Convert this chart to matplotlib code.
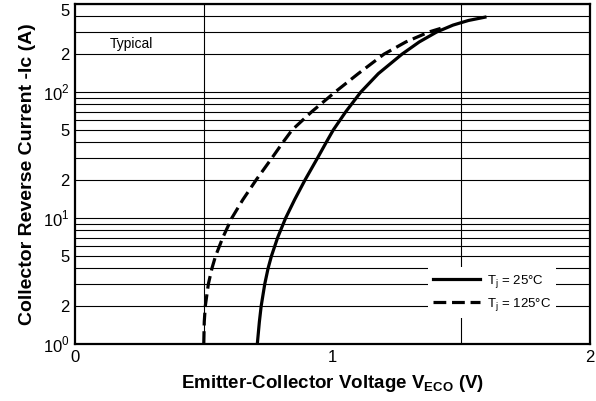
#!/usr/bin/env python3
import matplotlib
matplotlib.use("Agg")
import matplotlib.pyplot as plt
from matplotlib.ticker import FixedLocator, LogLocator, NullFormatter

plt.rcParams['font.family'] = ['Liberation Sans', 'DejaVu Sans']
plt.rcParams['mathtext.fontset'] = 'custom'
plt.rcParams['mathtext.rm'] = 'Liberation Sans'
plt.rcParams['mathtext.bf'] = 'Liberation Sans:bold'

# Tj = 25C curve
solid_y = [1, 1.5, 2, 3, 4, 5, 7, 10, 14, 20, 30,
           40, 50, 70, 100, 140, 200, 250, 300, 340, 370, 393]
solid_x = [0.708, 0.716, 0.723, 0.737, 0.750, 0.763, 0.787, 0.818, 0.853, 0.893, 0.942,
           0.976, 1.003, 1.052, 1.11, 1.178, 1.27, 1.337, 1.405, 1.468, 1.528, 1.592]

# Tj = 125C curve
dashed_y = [1, 1.5, 2, 3, 4, 5, 7, 10, 14, 20,
            30, 40, 50, 70, 100, 140, 200, 250, 300, 320]
dashed_x = [0.500, 0.502, 0.506, 0.518, 0.532, 0.546, 0.574, 0.609, 0.652, 0.703,
            0.765, 0.808, 0.843, 0.920, 1.010, 1.10, 1.200, 1.285, 1.375, 1.42]

y_ticks = [1, 2, 5, 10, 20, 50, 100, 200, 500]
y_tick_labels = ["10$^0$", "2", "5", "10$^1$", "2", "5", "10$^2$", "2", "5"]
x_ticks = [0, 1, 2]
x_grid = [0.5, 1.0, 1.5]

fig = plt.figure(figsize=(5.96, 4.01), dpi=100)
ax = fig.add_axes([75 / 596, 1 - 344 / 401, 515 / 596, 340 / 401])

ax.set_yscale('log')
ax.set_xlim(0, 2)
ax.set_ylim(1, 500)

# grid: every log minor line + a few vertical lines
ax.yaxis.set_minor_locator(LogLocator(base=10, subs=range(2, 10)))
ax.yaxis.set_minor_formatter(NullFormatter())
ax.yaxis.set_major_locator(FixedLocator(y_ticks))
ax.set_yticklabels(y_tick_labels)
ax.get_yticklabels()[-1].set_va('top')
ax.set_xticks(x_ticks)
ax.set_xticklabels([str(v) for v in x_ticks])
ax.xaxis.set_minor_locator(FixedLocator(x_grid))
ax.grid(True, which='both', axis='y', color='black', lw=0.8)
ax.grid(True, which='minor', axis='x', color='black', lw=0.8)
ax.tick_params(which='both', length=0, labelsize=12, pad=4)

for s in ax.spines.values():
    s.set_linewidth(1.6)
    s.set_color('black')

ax.plot(solid_x, solid_y, color='black', lw=2.3, label='T$_\\mathregular{j}$ = 25°C',
        solid_joinstyle='round', zorder=3)
ax.plot(dashed_x, dashed_y, color='black', lw=2.3, dashes=(4, 1.8),
        label='T$_\\mathregular{j}$ = 125°C', zorder=3)

ax.text(0.136, 240, "Typical", fontsize=10, va='center', ha='left',
        bbox=dict(facecolor='white', edgecolor='none', pad=1))

leg = ax.legend(loc='upper left', bbox_to_anchor=(0.672, 0.245), fontsize=9.5,
                frameon=True, fancybox=False, framealpha=1, facecolor='white',
                edgecolor='none', handlelength=3.6, handletextpad=0.5,
                borderpad=0.4, labelspacing=0.5)
leg.set_zorder(4)

ax.set_xlabel("Emitter-Collector Voltage V$_{\\mathbf{ECO}}$ (V)", fontsize=13.5,
              fontweight='bold', labelpad=6)
ax.set_ylabel("Collector Reverse Current -Ic (A)", fontsize=14,
              fontweight='bold', labelpad=5)

fig.savefig("out.png", dpi=100)
